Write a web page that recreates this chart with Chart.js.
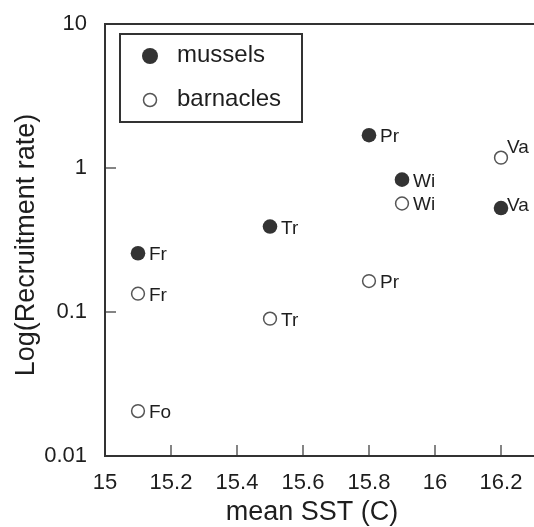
<!DOCTYPE html>
<html>
<head>
<meta charset="utf-8">
<script src="https://cdn.jsdelivr.net/npm/chart.js@4/dist/chart.umd.min.js"></script>
<style>
  html, body { margin: 0; padding: 0; background: #fff; overflow: hidden; }
  #wrap { width: 534px; height: 527px; overflow: hidden; }
</style>
</head>
<body>
<div id="wrap">
  <div style="width:600px;height:527px;"><canvas id="sstChart"></canvas></div>
</div>
<script>
// mean SST (C) per site and recruitment rates (log axis)
const musselSites = ['Fr', 'Tr', 'Pr', 'Wi', 'Va'];
const musselSST = [15.1, 15.5, 15.8, 15.9, 16.2];
const musselRates = [0.256, 0.392, 1.69, 0.83, 0.527];

const barnacleSites = ['Fr', 'Fo', 'Tr', 'Pr', 'Wi', 'Va'];
const barnacleSST = [15.1, 15.1, 15.5, 15.8, 15.9, 16.2];
const barnacleRates = [0.134, 0.0205, 0.0899, 0.164, 0.567, 1.18];

const yTicks = [0.01, 0.1, 1, 10];
const xTicks = [15, 15.2, 15.4, 15.6, 15.8, 16, 16.2, 16.4];

const FONT = 'Liberation Sans, Arial, Helvetica, sans-serif';
const INK = '#333';
const TEXT = '#1e1e1e';

// label nudges (pixels), the "Va" labels sit raised
const labelShift = { 'mussels:Va': [6, 3], 'barnacles:Va': [6, -5] };

function toPoints(xs, ys) {
    return xs.map((x, i) => ({ x: x, y: ys[i] }));
}

function noEdgePadding(scale) {
    scale.paddingTop = 0;
    scale.paddingBottom = 0;
    scale.paddingLeft = 0;
    scale.paddingRight = 0;
}

const framePlugin = {
    id: 'frame',
    afterDraw(chart) {
        const ctx = chart.ctx;
        const area = chart.chartArea;
        const xs = chart.scales.x;
        const ys = chart.scales.y;
        ctx.save();
        ctx.strokeStyle = INK;
        ctx.lineWidth = 2;
        ctx.strokeRect(area.left, area.top, area.right - area.left, area.bottom - area.top);

        // inward tick marks
        ctx.lineWidth = 1.2;
        xTicks.forEach(v => {
            const px = xs.getPixelForValue(v);
            if (px <= area.left + 1 || px >= area.right - 1) return;
            ctx.beginPath();
            ctx.moveTo(px, area.bottom);
            ctx.lineTo(px, area.bottom - 11);
            ctx.stroke();
        });
        yTicks.forEach(v => {
            const py = ys.getPixelForValue(v);
            if (py <= area.top + 1 || py >= area.bottom - 1) return;
            ctx.beginPath();
            ctx.moveTo(area.left, py);
            ctx.lineTo(area.left + 11, py);
            ctx.stroke();
        });

        // site labels next to each point
        ctx.fillStyle = TEXT;
        ctx.font = '19px ' + FONT;
        ctx.textBaseline = 'alphabetic';
        const sets = [
            { key: 'mussels', sites: musselSites, xs: musselSST, ys: musselRates },
            { key: 'barnacles', sites: barnacleSites, xs: barnacleSST, ys: barnacleRates }
        ];
        sets.forEach(s => {
            s.sites.forEach((name, i) => {
                const px = xs.getPixelForValue(s.xs[i]);
                const py = ys.getPixelForValue(s.ys[i]);
                const shift = labelShift[s.key + ':' + name];
                if (shift) {
                    ctx.fillText(name, px + shift[0], py + shift[1]);
                } else {
                    ctx.fillText(name, px + 11, py + 7);
                }
            });
        });

        // legend box
        const lx = area.left + 15;
        const ly = area.top + 10;
        ctx.lineWidth = 2;
        ctx.strokeStyle = INK;
        ctx.strokeRect(lx, ly, 182, 88);
        ctx.fillStyle = INK;
        ctx.beginPath();
        ctx.arc(lx + 30, ly + 22, 8, 0, Math.PI * 2);
        ctx.fill();
        ctx.fillStyle = '#fff';
        ctx.strokeStyle = '#555';
        ctx.lineWidth = 1.5;
        ctx.beginPath();
        ctx.arc(lx + 30, ly + 66, 6.5, 0, Math.PI * 2);
        ctx.fill();
        ctx.stroke();
        ctx.fillStyle = TEXT;
        ctx.font = '24px ' + FONT;
        ctx.textBaseline = 'middle';
        ctx.fillText('mussels', lx + 57, ly + 21);
        ctx.fillText('barnacles', lx + 57, ly + 65);

        // axis titles
        ctx.font = '27px ' + FONT;
        ctx.textAlign = 'center';
        ctx.textBaseline = 'middle';
        ctx.fillText('mean SST (C)', 312, 513);
        ctx.translate(27, 245);
        ctx.rotate(-Math.PI / 2);
        ctx.fillText('Log(Recruitment rate)', 0, 0);
        ctx.restore();
    }
};

const ctx = document.getElementById('sstChart').getContext('2d');
const chart = new Chart(ctx, {
    type: 'scatter',
    data: {
        datasets: [
            {
                label: 'mussels',
                data: toPoints(musselSST, musselRates),
                pointRadius: 7.3,
                pointHoverRadius: 7.3,
                backgroundColor: INK,
                borderColor: INK,
                borderWidth: 0
            },
            {
                label: 'barnacles',
                data: toPoints(barnacleSST, barnacleRates),
                pointRadius: 6.4,
                pointHoverRadius: 6.4,
                backgroundColor: '#fff',
                borderColor: '#555',
                borderWidth: 1.5
            }
        ]
    },
    options: {
        responsive: true,
        maintainAspectRatio: false,
        animation: false,
        events: [],
        layout: { padding: { top: 24, right: 33, left: 0, bottom: 0 } },
        plugins: {
            legend: { display: false },
            tooltip: { enabled: false }
        },
        scales: {
            x: {
                type: 'linear',
                min: 15,
                max: 16.4,
                afterBuildTicks: scale => { scale.ticks = xTicks.map(v => ({ value: v })); },
                afterFit: scale => { scale.height = 71; noEdgePadding(scale); },
                grid: { display: false, drawTicks: false },
                border: { display: false },
                ticks: {
                    color: TEXT,
                    font: { family: FONT, size: 22 },
                    padding: 14,
                    maxRotation: 0,
                    autoSkip: false,
                    callback: v => String(Math.round(v * 10) / 10)
                }
            },
            y: {
                type: 'logarithmic',
                min: 0.01,
                max: 10,
                afterBuildTicks: scale => { scale.ticks = yTicks.map(v => ({ value: v })); },
                afterFit: scale => { scale.width = 105; noEdgePadding(scale); },
                grid: { display: false, drawTicks: false },
                border: { display: false },
                ticks: {
                    color: TEXT,
                    font: { family: FONT, size: 22 },
                    padding: 18,
                    autoSkip: false,
                    callback: v => String(v)
                }
            }
        }
    },
    plugins: [framePlugin]
});
</script>
</body>
</html>
